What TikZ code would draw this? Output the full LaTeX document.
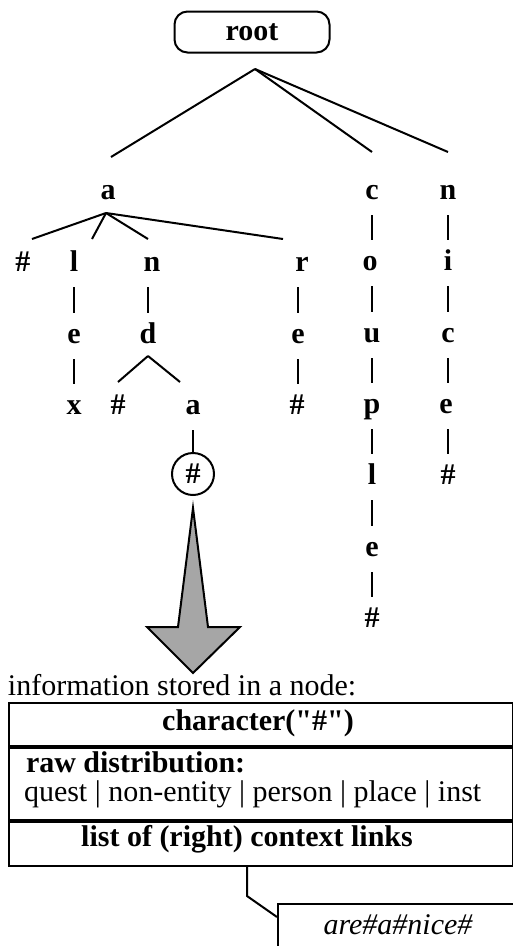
\documentclass[tikz,border=0pt]{standalone}
\usepackage{fontspec}
\setmainfont{Liberation Serif}
\newfontfamily\rawserif[Ligatures=TeXOff]{Liberation Serif}
\usetikzlibrary{calc}
\begin{document}
\begin{tikzpicture}[x=1pt,y=-1pt,line width=2pt,
  txt/.style={font=\fontsize{30}{36}\selectfont, inner sep=0pt},
  btxt/.style={font=\fontsize{30}{36}\selectfont\bfseries, inner sep=0pt},
  itxt/.style={font=\fontsize{30}{36}\selectfont\itshape, inner sep=0pt},
  letter/.style={btxt, text height=14pt, text depth=0pt, minimum height=44pt},
  rowbox/.style={draw, rectangle, anchor=north west, minimum width=504pt, inner sep=0pt},
  arrowfill/.style={fill=black!35, draw=black, line join=miter}]
\useasboundingbox (0,0) rectangle (513,946);
\clip (0,0) rectangle (513,946);

% root
\node[btxt, draw, rounded corners=13pt, minimum width=155pt, minimum height=41pt] (root) at (252,32) {root};

% letters
\node[letter] (a1) at (108,192) {a};
\node[letter] (c1) at (372,192) {c};
\node[letter] (n1) at (448,192) {n};

\node[letter] (h1) at (23,264) {\#};
\node[letter] (l1) at (74,264) {l};
\node[letter] (n2) at (152,264) {n};
\node[letter] (r1) at (302,264) {r};
\node[letter] (o1) at (370,263) {o};
\node[letter] (i1) at (448,263) {i};

\node[letter] (e1) at (74,336) {e};
\node[letter] (d1) at (148,336) {d};
\node[letter] (e2) at (298,336) {e};
\node[letter] (u1) at (372,335) {u};
\node[letter] (c2) at (448,335) {c};

\node[letter] (x1) at (74,407) {x};
\node[letter] (h2) at (118,407) {\#};
\node[letter] (a2) at (193,407) {a};
\node[letter] (h3) at (297,407) {\#};
\node[letter] (p1) at (372,406) {p};
\node[letter] (e4) at (446,406) {e};

\node[letter] (l2) at (372,477) {l};
\node[letter] (h5) at (448,477) {\#};
\node[letter] (e3) at (372,549) {e};
\node[letter] (h4) at (372,620) {\#};

\node[btxt, draw, circle, minimum size=42pt] (circ) at (193,474) {\#};

% root branches
\draw ($(root.south)+(3,15.5)$) -- ($(a1.north)+(3,-12)$);
\draw ($(root.south)+(3,15.5)$) -- ($(c1.north)+(0,-17)$);
\draw ($(root.south)+(3,15.5)$) -- ($(n1.north)+(0,-17)$);

% a branches
\draw ($(a1.south)+(-2,-2)$) -- ($(h1.north)+(9,-2)$);
\draw ($(a1.south)+(-2,-2)$) -- ($(l1.north)+(18,-2)$);
\draw ($(a1.south)+(-2,-2)$) -- ($(n2.north)+(-4,-2)$);
\draw ($(a1.south)+(-2,-2)$) -- ($(r1.north)+(-19,-2)$);

% verticals left tree
\draw (l1.south) -- (e1.north);
\draw (e1.south) -- (x1.north);
\draw (d1.north |- n2.south) -- (d1.north);
\draw (e2.north |- r1.south) -- (e2.north);
\draw (e2.south) -- (e2.south |- h3.north);
\draw ($(d1.south)+(0,-3)$) -- ($(h2.north)+(0,-2)$);
\draw ($(d1.south)+(0,-3)$) -- ($(a2.north)+(-13,-2)$);
\draw (a2.south) -- (circ.north);

% c column
\draw (c1.south) -- (c1.south |- o1.north);
\draw (u1.north |- o1.south) -- (u1.north);
\draw (u1.south) -- (p1.north);
\draw (p1.south) -- (l2.north);
\draw (l2.south) -- (e3.north);
\draw (e3.south) -- (h4.north);

% n column
\draw (n1.south) -- (i1.north);
\draw (i1.south) -- (c2.north);
\draw (c2.south) -- (c2.south |- e4.north);
\draw (h5.north |- e4.south) -- (h5.north);

% big arrow
\path[arrowfill] (193,508) -- (208,627) -- (240,627) -- (193,673) -- (147,627) -- (178,627) -- cycle;

% info box
\node[txt, anchor=base west] (info) at (7,695) {information stored in a node:};
\node[rowbox, minimum height=43pt] (row1) at (8,702) {};
\node[rowbox, minimum height=72pt] (row2) at (row1.south west) {};
\node[rowbox, minimum height=44pt] (row3) at (row2.south west) {};
\node[btxt, font=\fontsize{30}{36}\rawserif\bfseries] (chr) at (258,723) {character("\#")};
\node[btxt, anchor=base west] (raw) at (25,772) {raw distribution:};
\node[txt, anchor=base west] (dist) at (23,801) {quest | non-entity | person | place | inst};
\node[btxt] (lst) at (247,839) {list of (right) context links};

% context link
\node[draw, rectangle, anchor=north west, minimum width=300pt, minimum height=60pt, inner sep=0pt] (ctx) at (277,903) {};
\node[itxt] (ctxt) at ($(ctx.north west)+(121,22)$) {are\#a\#nice\#};
\draw ($(row3.south west)+(239,0)$) -- ++(0,29) -- ($(ctx.north west)+(0,14)$);
\end{tikzpicture}
\end{document}
